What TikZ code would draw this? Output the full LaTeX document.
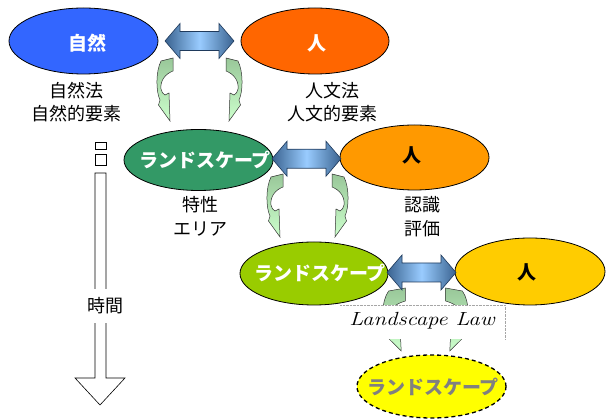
\documentclass[tikz,border=0pt]{standalone}
\usepackage{fontspec}
\newfontfamily\jp{Noto Sans CJK JP}
\usetikzlibrary{shapes.geometric,calc}
\definecolor{cBlue}{HTML}{3366FF}
\definecolor{cOrangeA}{HTML}{FF6600}
\definecolor{cGreen}{HTML}{339966}
\definecolor{cOrangeB}{HTML}{FF9900}
\definecolor{cLime}{HTML}{99CC00}
\definecolor{cGold}{HTML}{FFCC00}
\definecolor{cYellow}{HTML}{FFFF00}
\definecolor{arrDark}{HTML}{3A6390}
\definecolor{arrLight}{HTML}{99CCFF}
\definecolor{arrEdge}{HTML}{1F3A5C}
\definecolor{cvTop}{HTML}{99C799}
\definecolor{cvBot}{HTML}{CCFFCC}
\definecolor{txtGray}{HTML}{808080}
\begin{document}
\begin{tikzpicture}[x=1pt,y=-1pt,
  blob/.style={ellipse, draw=black, line width=0.8pt, minimum width=149pt, inner sep=0pt},
  intext/.style={font={\jp\bfseries\fontsize{19}{22}\selectfont}, inner sep=0pt},
  lbl/.style={font={\jp\fontsize{18}{23.5}\selectfont}, align=center, inner sep=0pt},
  timebox/.style={draw=black, line width=0.6pt},
  carrow/.pic={\path[draw=black!80, line width=0.5pt, top color=cvTop, bottom color=cvBot]
     (4,3) -- (16,0) -- (16,13)
     .. controls (8,16) and (3,23) .. (4,31)
     .. controls (4.5,34) and (6,36) .. (8,37)
     -- (12,35) -- (13,63) -- (1.5,47) -- (3,42)
     .. controls (-1,34) and (-1.5,14) .. (4,3) -- cycle;},
  darrow/.pic={\path[draw=arrEdge, line width=0.6pt, left color=arrDark, right color=arrDark, middle color=arrLight]
     (-34.5,0) -- (-19.5,-17.5) -- (-19.5,-9.5) -- (19.5,-9.5) -- (19.5,-17.5) -- (34.5,0)
     -- (19.5,17.5) -- (19.5,9.5) -- (-19.5,9.5) -- (-19.5,17.5) -- cycle;}
]
\useasboundingbox (0,0) rectangle (606,419);

% curved arrows
\pic at (157,58) {carrow};
\pic[xscale=-1] at (242,58) {carrow};
\pic at (267,174) {carrow};
\pic[xscale=-1] at (348,174) {carrow};
\pic[xscale=1.4] at (383,288) {carrow};
\pic[xscale=-1.4] at (468,288) {carrow};

% ellipses
\node[blob, fill=cBlue, minimum height=66pt] (e1) at (83.5,41) {};
\node[blob, fill=cOrangeA, minimum width=148pt, minimum height=66pt] (e2) at (315,41) {};
\node[blob, fill=cGreen, minimum height=61pt] (e3) at (198.5,160) {};
\node[blob, fill=cOrangeB, minimum height=65pt] (e4) at (414.5,157.5) {};
\node[blob, fill=cLime, minimum width=148pt, minimum height=63pt] (e5) at (314,273.5) {};
\node[blob, fill=cGold, minimum width=150pt, minimum height=67pt] (e6) at (530,271.5) {};
\node[blob, fill=cYellow, dashed, dash pattern=on 4pt off 3pt, line width=1.3pt, minimum height=63pt] (e7) at (431.5,386.5) {};

\node[intext, text=white] (t1) at ($(e1.center)+(4,2)$) {自然};
\node[intext, text=white] (t2) at ($(e2.center)+(2,2)$) {人};
\node[intext, text=white] (t3) at ($(e3.center)+(6.5,0)$) {ランドスケープ};
\node[intext, text=black] (t4) at ($(e4.center)+(-2.5,-2.5)$) {人};
\node[intext, text=white] (t5) at ($(e5.center)+(6,-0.5)$) {ランドスケープ};
\node[intext, text=black] (t6) at ($(e6.center)+(-3,0.5)$) {人};
\node[intext, text=txtGray] (t7) at ($(e7.center)+(1.5,0.5)$) {ランドスケープ};

% double arrows
\pic at ($(e1.east)!0.5!(e2.west)$) {darrow};
\pic at ($(e3.east)!0.5!(e4.west)$) {darrow};
\pic at ($(e5.east)!0.5!(e6.west)$) {darrow};

% Landscape Law box
\fill[white] (340,305) rectangle (505,339);
\draw[gray!70, line width=0.4pt, densely dotted] (340,305) -- (505,305) -- (505,339);
\node[font=\itshape\fontsize{19}{21}\selectfont, inner sep=0pt, xscale=1.2, transform shape] (law) at (422,321) {Landscape Law};

% labels
\node[lbl] (l1) at (76.5,102) {自然法\\自然的要素};
\node[lbl] (l2) at (332.5,102) {人文法\\人文的要素};
\node[lbl] (l3) at (200,216.5) {特性\\エリア};
\node[lbl] (l4) at (422.5,216.5) {認識\\評価};

% time arrow
\draw[timebox] (95,142) rectangle (106,149);
\draw[timebox] (95,154) rectangle (106,165);
\draw[timebox] (95,173) -- (106,173) -- (106,378) -- (125,378) -- (100,405) -- (75,378) -- (95,378) -- cycle;
\node[lbl, fill=white, minimum height=34pt, minimum width=30pt] (time) at (105,306) {時間};
\end{tikzpicture}
\end{document}
